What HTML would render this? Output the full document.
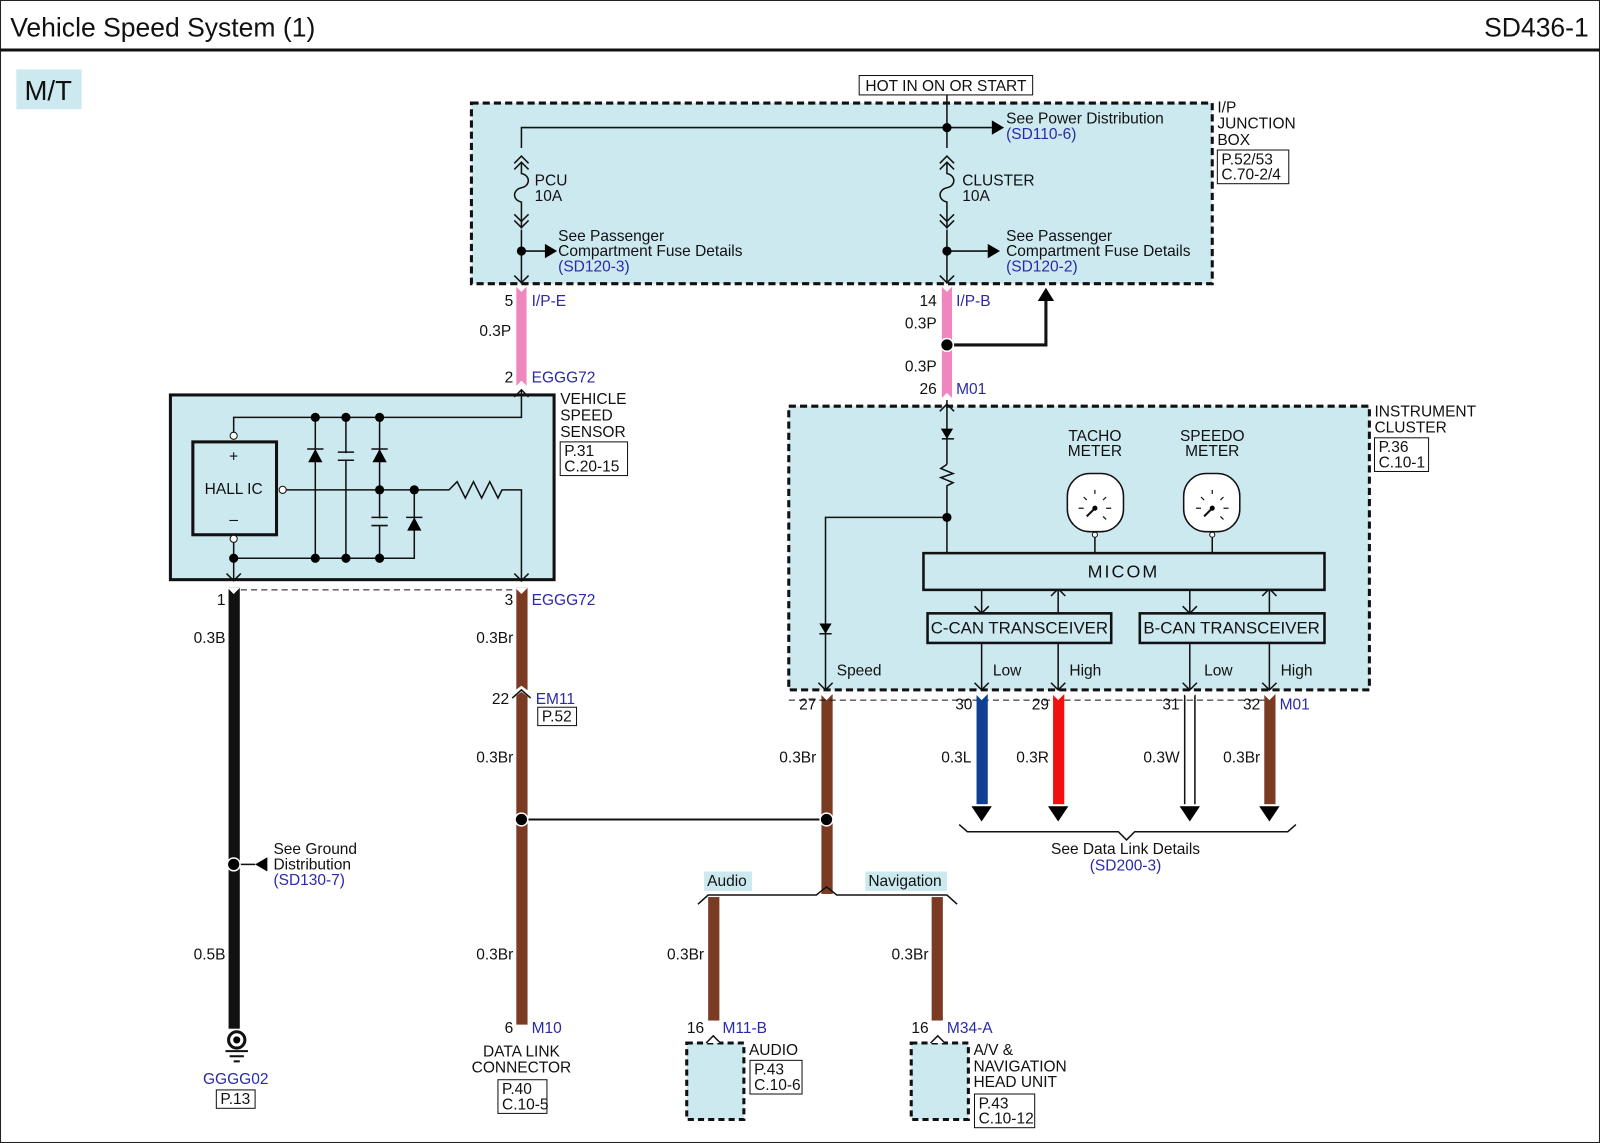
<!DOCTYPE html>
<html><head><meta charset="utf-8"><style>
html,body{margin:0;padding:0;background:#fff;}
svg{display:block;}
text{font-family:"Liberation Sans",Arial,sans-serif;font-size:15.2px;fill:#111;}
.b{fill:#2a2aa8;}
.s{font-size:16.5px;}
</style></head><body>
<svg width="1600" height="1143" viewBox="0 0 1568 1120" preserveAspectRatio="none" xmlns="http://www.w3.org/2000/svg">
<rect x="0.5" y="0.5" width="1567" height="1119" fill="#fff" stroke="#222" stroke-width="1"/>
<text x="10" y="36" style="font-size:26px">Vehicle Speed System (1)</text>
<text x="1557" y="36" text-anchor="end" style="font-size:26px">SD436-1</text>
<line x1="0" y1="49" x2="1568" y2="49" stroke="#111" stroke-width="3"/>
<rect x="16" y="68" width="64" height="39" fill="#cde9f0"/>
<text x="24" y="98" style="font-size:27px">M/T</text>

<!-- junction box -->
<rect x="462" y="101" width="726" height="177" fill="#cde9f0" stroke="#111" stroke-width="3" stroke-dasharray="7,4"/>
<rect x="842" y="74" width="170" height="19" fill="#fff" stroke="#111"/>
<text x="927" y="89" text-anchor="middle">HOT IN ON OR START</text>
<text x="1193" y="110">I/P</text><text x="1193" y="126">JUNCTION</text><text x="1193" y="142">BOX</text>
<rect x="1193" y="147" width="70" height="33" fill="#fff" stroke="#111"/>
<text x="1197" y="161">P.52/53</text><text x="1197" y="176">C.70-2/4</text>
<g stroke="#111" stroke-width="1.5" fill="none">
<polyline points="511,145 511,125 928,125"/>
<line x1="928" y1="93" x2="928" y2="145"/>
<line x1="928" y1="125" x2="972" y2="125"/>
<line x1="928" y1="246" x2="968" y2="246"/>
<line x1="511" y1="246" x2="538" y2="246"/>
<line x1="511" y1="225" x2="511" y2="278"/>
<line x1="928" y1="225" x2="928" y2="278"/>
<polyline points="504,160 511,153 518,160"/>
<polyline points="504,166 511,159 518,166"/>
<path d="M511,159 V170 C520,172 520,182 511,184 C502,186 502,196 511,198 V224"/>
<polyline points="504,210 511,217 518,210"/><polyline points="504,216 511,223 518,216"/>
<polyline points="921,160 928,153 935,160"/><polyline points="921,166 928,159 935,166"/>
<path d="M928,159 V170 C937,172 937,182 928,184 C919,186 919,196 928,198 V224"/>
<polyline points="921,210 928,217 935,210"/><polyline points="921,216 928,223 935,216"/>
<polyline points="504,270 511,277 518,270"/><polyline points="921,270 928,277 935,270"/>
</g>
<circle cx="928" cy="125" r="4.5"/><circle cx="928" cy="246" r="4.5"/><circle cx="511" cy="246" r="4.5"/>
<polygon points="972,118 984,125 972,132"/><polygon points="968,239 980,246 968,253"/><polygon points="534,239 546,246 534,253"/>
<text x="986" y="121">See Power Distribution</text><text x="986" y="136" class="b">(SD110-6)</text>
<text x="524" y="182">PCU</text><text x="524" y="197">10A</text>
<text x="943" y="182">CLUSTER</text><text x="943" y="197">10A</text>
<text x="547" y="236">See Passenger</text><text x="547" y="251">Compartment Fuse Details</text><text x="547" y="266" class="b">(SD120-3)</text>
<text x="986" y="236">See Passenger</text><text x="986" y="251">Compartment Fuse Details</text><text x="986" y="266" class="b">(SD120-2)</text>

<!-- pink wires -->
<rect x="506" y="280" width="10" height="98" fill="#ef86c0"/>
<rect x="923" y="280" width="10" height="110" fill="#ef86c0"/>
<circle cx="928" cy="338" r="7" fill="#fff"/><circle cx="928" cy="338" r="5.5"/>
<polyline points="935,338 1025,338 1025,290" stroke="#111" stroke-width="3" fill="none"/>
<polygon points="1017,295 1025,282 1033,295"/>
<text x="503" y="300" text-anchor="end">5</text><text x="521" y="300" class="b">I/P-E</text>
<text x="501" y="329" text-anchor="end">0.3P</text>
<text x="503" y="375" text-anchor="end">2</text><text x="521" y="375" class="b">EGGG72</text>
<text x="918" y="300" text-anchor="end">14</text><text x="937" y="300" class="b">I/P-B</text>
<text x="918" y="322" text-anchor="end">0.3P</text>
<text x="918" y="364" text-anchor="end">0.3P</text>
<text x="918" y="386" text-anchor="end">26</text><text x="937" y="386" class="b">M01</text>

<!-- sensor -->
<rect x="167" y="387" width="376" height="181" fill="#cde9f0" stroke="#111" stroke-width="3"/>
<text x="549" y="396">VEHICLE</text><text x="549" y="412">SPEED</text><text x="549" y="428">SENSOR</text>
<rect x="549" y="433" width="66" height="33" fill="#fff" stroke="#111"/>
<text x="553" y="447">P.31</text><text x="553" y="462">C.20-15</text>
<rect x="189" y="433" width="82" height="91" fill="#cde9f0" stroke="#111" stroke-width="3"/>
<text x="229" y="484" text-anchor="middle">HALL IC</text>
<text x="229" y="452" text-anchor="middle">+</text><text x="229" y="514" text-anchor="middle">–</text>
<g stroke="#111" stroke-width="1.5" fill="none">
<polyline points="229,425 229,409 511,409 511,382"/>
<polyline points="229,530 229,547 406,547 406,480"/>
<polyline points="280,480 440,480 448,472 456,488 464,472 472,488 480,472 488,488 492,480 511,480 511,570"/>
<line x1="309" y1="409" x2="309" y2="547"/><line x1="339" y1="409" x2="339" y2="547"/><line x1="372" y1="409" x2="372" y2="547"/>
<polyline points="504,389 511,382 518,389"/><polyline points="504,562 511,569 518,562"/>
<polyline points="222,562 229,569 236,562"/><line x1="229" y1="547" x2="229" y2="568"/>
<line x1="301" y1="440" x2="317" y2="440"/><line x1="364" y1="440" x2="380" y2="440"/><line x1="398" y1="507" x2="414" y2="507"/>
</g>
<g stroke="#cde9f0" stroke-width="4"><line x1="339" y1="444" x2="339" y2="451"/><line x1="372" y1="508" x2="372" y2="515"/></g>
<g stroke="#111" stroke-width="1.5"><line x1="331" y1="443" x2="347" y2="443"/><line x1="331" y1="451" x2="347" y2="451"/><line x1="364" y1="507" x2="380" y2="507"/><line x1="364" y1="515" x2="380" y2="515"/></g>
<polygon points="302,453 316,453 309,440"/><polygon points="365,453 379,453 372,440"/><polygon points="399,520 413,520 406,507"/>
<circle cx="229" cy="427" r="3.5" fill="#fff" stroke="#111"/><circle cx="229" cy="528" r="3.5" fill="#fff" stroke="#111"/><circle cx="277" cy="480" r="3.5" fill="#fff" stroke="#111"/>
<g><circle cx="309" cy="409" r="4.5"/><circle cx="339" cy="409" r="4.5"/><circle cx="372" cy="409" r="4.5"/>
<circle cx="309" cy="547" r="4.5"/><circle cx="339" cy="547" r="4.5"/><circle cx="372" cy="547" r="4.5"/><circle cx="229" cy="547" r="4.5"/>
<circle cx="372" cy="480" r="4.5"/><circle cx="406" cy="480" r="4.5"/></g>
<line x1="236" y1="578" x2="506" y2="578" stroke="#111" stroke-dasharray="6,4"/>

<!-- left wires -->
<rect x="224" y="576" width="11" height="432" fill="#111"/>
<rect x="506" y="576" width="11" height="428" fill="#7a3b22"/>
<polygon points="500,680 511,672 522,680 522,686 511,678 500,686" fill="#fff"/>
<polyline points="502,684 511,676 520,684" stroke="#111" fill="none" stroke-width="1.5"/>
<text x="221" y="593" text-anchor="end">1</text><text x="221" y="630" text-anchor="end">0.3B</text>
<text x="221" y="940" text-anchor="end">0.5B</text>
<text x="503" y="593" text-anchor="end">3</text><text x="521" y="593" class="b">EGGG72</text>
<text x="503" y="630" text-anchor="end">0.3Br</text>
<text x="499" y="690" text-anchor="end">22</text><text x="525" y="690" class="b">EM11</text>
<rect x="527" y="693" width="38" height="18" fill="#fff" stroke="#111"/><text x="531" y="707">P.52</text>
<text x="503" y="747" text-anchor="end">0.3Br</text><text x="503" y="940" text-anchor="end">0.3Br</text>
<circle cx="229" cy="847" r="7" fill="#fff"/><circle cx="229" cy="847" r="5.5"/>
<line x1="236" y1="847" x2="250" y2="847" stroke="#111" stroke-width="1.5"/>
<polygon points="262,840 250,847 262,854"/>
<text x="268" y="837">See Ground</text><text x="268" y="852">Distribution</text><text x="268" y="867" class="b">(SD130-7)</text>
<circle cx="232" cy="1019" r="8" fill="#fff" stroke="#111" stroke-width="3"/><circle cx="232" cy="1019" r="3.5"/>
<line x1="221" y1="1030" x2="243" y2="1030" stroke="#111" stroke-width="2"/>
<line x1="225" y1="1035" x2="239" y2="1035" stroke="#111" stroke-width="2"/>
<line x1="229" y1="1040" x2="235" y2="1040" stroke="#111" stroke-width="2"/>
<text x="231" y="1062" text-anchor="middle" class="b">GGGG02</text>
<rect x="212" y="1068" width="38" height="18" fill="#fff" stroke="#111"/><text x="216" y="1082">P.13</text>
<text x="503" y="1012" text-anchor="end">6</text><text x="521" y="1012" class="b">M10</text>
<text x="511" y="1035" text-anchor="middle">DATA LINK</text><text x="511" y="1051" text-anchor="middle">CONNECTOR</text>
<rect x="488" y="1058" width="48" height="33" fill="#fff" stroke="#111"/><text x="492" y="1072">P.40</text><text x="492" y="1087">C.10-5</text>

<!-- splice -->
<line x1="511" y1="803" x2="810" y2="803" stroke="#111" stroke-width="2"/>
<circle cx="511" cy="803" r="7" fill="#fff"/><circle cx="511" cy="803" r="5.5"/>
<rect x="805" y="680" width="11" height="196" fill="#7a3b22"/>
<circle cx="810" cy="803" r="7" fill="#fff"/><circle cx="810" cy="803" r="5.5"/>
<text x="800" y="695" text-anchor="end">27</text><text x="800" y="747" text-anchor="end">0.3Br</text>
<polyline points="684,886 694,877 800,877 810,869 820,877 928,877 938,886" stroke="#111" stroke-width="1.5" fill="none"/>
<rect x="690" y="854" width="47" height="19" fill="#cde9f0"/><text x="693" y="868">Audio</text>
<rect x="848" y="854" width="80" height="19" fill="#cde9f0"/><text x="851" y="868">Navigation</text>
<rect x="694" y="879" width="11" height="121" fill="#7a3b22"/>
<rect x="913" y="879" width="11" height="121" fill="#7a3b22"/>
<text x="690" y="940" text-anchor="end">0.3Br</text><text x="910" y="940" text-anchor="end">0.3Br</text>
<text x="690" y="1012" text-anchor="end">16</text><text x="708" y="1012" class="b">M11-B</text>
<text x="910" y="1012" text-anchor="end">16</text><text x="928" y="1012" class="b">M34-A</text>
<rect x="673" y="1022" width="56" height="75" fill="#cde9f0" stroke="#111" stroke-width="3" stroke-dasharray="6,4"/>
<rect x="893" y="1022" width="56" height="75" fill="#cde9f0" stroke="#111" stroke-width="3" stroke-dasharray="6,4"/>
<polyline points="692,1022 699,1015 706,1022" stroke="#111" fill="#fff" stroke-width="1.5"/>
<polyline points="912,1022 919,1015 926,1022" stroke="#111" fill="#fff" stroke-width="1.5"/>
<text x="734" y="1034">AUDIO</text>
<rect x="735" y="1039" width="51" height="33" fill="#fff" stroke="#111"/><text x="739" y="1053">P.43</text><text x="739" y="1068">C.10-6</text>
<text x="954" y="1034">A/V &amp;</text><text x="954" y="1050">NAVIGATION</text><text x="954" y="1065">HEAD UNIT</text>
<rect x="955" y="1072" width="59" height="33" fill="#fff" stroke="#111"/><text x="959" y="1086">P.43</text><text x="959" y="1101">C.10-12</text>

<!-- cluster -->
<rect x="773" y="398" width="569" height="278" fill="#cde9f0" stroke="#111" stroke-width="3" stroke-dasharray="7,4"/>
<text x="1347" y="408">INSTRUMENT</text><text x="1347" y="424">CLUSTER</text>
<rect x="1347" y="429" width="53" height="33" fill="#fff" stroke="#111"/><text x="1351" y="443">P.36</text><text x="1351" y="458">C.10-1</text>
<line x1="773" y1="686" x2="1250" y2="686" stroke="#111" stroke-dasharray="6,4"/>
<g stroke="#111" stroke-width="1.5" fill="none">
<line x1="928" y1="392" x2="928" y2="455"/>
<polyline points="928,455 922,459 934,464 922,468 934,473 928,476 928,542"/>
<polyline points="921,403 928,396 935,403"/>
<polyline points="928,507 809,507 809,676"/>
<line x1="923" y1="430" x2="935" y2="430"/><line x1="803" y1="621" x2="815" y2="621"/>
<line x1="1073" y1="521" x2="1073" y2="542"/><line x1="1188" y1="521" x2="1188" y2="542"/>
<line x1="962" y1="578" x2="962" y2="676"/><line x1="1037" y1="578" x2="1037" y2="676"/>
<line x1="1166" y1="578" x2="1166" y2="676"/><line x1="1244" y1="578" x2="1244" y2="676"/>
<polyline points="955,594 962,601 969,594"/><polyline points="1030,584 1037,577 1044,584"/>
<polyline points="1159,594 1166,601 1173,594"/><polyline points="1237,584 1244,577 1251,584"/>
<polyline points="802,669 809,676 816,669"/><polyline points="955,669 962,676 969,669"/>
<polyline points="1030,669 1037,676 1044,669"/><polyline points="1159,669 1166,676 1173,669"/><polyline points="1237,669 1244,676 1251,669"/>
</g>
<polygon points="922,420 934,420 928,430"/><polygon points="803,611 815,611 809,621"/>
<circle cx="928" cy="507" r="4.5"/>
<text x="1073" y="432" text-anchor="middle">TACHO</text><text x="1073" y="447" text-anchor="middle">METER</text>
<text x="1188" y="432" text-anchor="middle">SPEEDO</text><text x="1188" y="447" text-anchor="middle">METER</text>
<g stroke="#111" stroke-width="1.5" fill="#fff">
<rect x="1046" y="464" width="55" height="57" rx="22"/><rect x="1160" y="464" width="55" height="57" rx="22"/>
</g>
<g stroke="#111" stroke-width="1.2">
<line x1="1073" y1="480" x2="1073" y2="484"/><line x1="1057" y1="498" x2="1062" y2="498"/><line x1="1084" y1="498" x2="1089" y2="498"/>
<line x1="1062" y1="487" x2="1065" y2="490"/><line x1="1084" y1="487" x2="1081" y2="490"/><line x1="1081" y1="506" x2="1084" y2="509"/>
<line x1="1073" y1="498" x2="1065" y2="506" stroke-width="2"/>
<line x1="1188" y1="480" x2="1188" y2="484"/><line x1="1172" y1="498" x2="1177" y2="498"/><line x1="1199" y1="498" x2="1204" y2="498"/>
<line x1="1177" y1="487" x2="1180" y2="490"/><line x1="1199" y1="487" x2="1196" y2="490"/><line x1="1196" y1="506" x2="1199" y2="509"/>
<line x1="1188" y1="498" x2="1180" y2="506" stroke-width="2"/>
</g>
<circle cx="1073" cy="498" r="2.5"/><circle cx="1188" cy="498" r="2.5"/>
<circle cx="1073" cy="524" r="2.5" fill="#fff" stroke="#111"/><circle cx="1188" cy="524" r="2.5" fill="#fff" stroke="#111"/>
<rect x="905" y="542" width="393" height="36" fill="#cde9f0" stroke="#111" stroke-width="2.5"/>
<text x="1101" y="566" text-anchor="middle" style="font-size:17.5px;letter-spacing:2px">MICOM</text>
<rect x="909" y="601" width="180" height="29" fill="#cde9f0" stroke="#111" stroke-width="2.5"/>
<text x="999" y="621" text-anchor="middle" class="s">C-CAN TRANSCEIVER</text>
<rect x="1117" y="601" width="181" height="29" fill="#cde9f0" stroke="#111" stroke-width="2.5"/>
<text x="1207" y="621" text-anchor="middle" class="s">B-CAN TRANSCEIVER</text>
<text x="820" y="662">Speed</text><text x="973" y="662">Low</text><text x="1048" y="662">High</text>
<text x="1180" y="662">Low</text><text x="1255" y="662">High</text>

<!-- bus wires -->
<rect x="957" y="680" width="11" height="108" fill="#0f3f96"/>
<rect x="1032" y="680" width="11" height="108" fill="#f01010"/>
<line x1="1161" y1="680" x2="1161" y2="788" stroke="#111" stroke-width="1.5"/>
<line x1="1171" y1="680" x2="1171" y2="788" stroke="#111" stroke-width="1.5"/>
<rect x="1239" y="680" width="11" height="108" fill="#7a3b22"/>
<!-- connector notches -->
<g fill="#fff">
<polygon points="505,280 511,286 517,280"/><polygon points="922,280 928,286 934,280"/>
<polygon points="505,379 511,373 517,379"/><polygon points="922,391 928,385 934,391"/>
<polygon points="223,576 229,582 235,576"/><polygon points="505,576 511,582 517,576"/>
<polygon points="804,680 810,686 816,680"/><polygon points="956,680 962,686 968,680"/>
<polygon points="1031,680 1037,686 1043,680"/><polygon points="1160,680 1166,686 1172,680"/>
<polygon points="1238,680 1244,686 1250,680"/>
</g>
<polygon points="952,790 972,790 962,805"/><polygon points="1027,790 1047,790 1037,805"/>
<polygon points="1156,790 1176,790 1166,805"/><polygon points="1234,790 1254,790 1244,805"/>
<text x="953" y="695" text-anchor="end">30</text><text x="1028" y="695" text-anchor="end">29</text>
<text x="1156" y="695" text-anchor="end">31</text><text x="1235" y="695" text-anchor="end">32</text><text x="1254" y="695" class="b">M01</text>
<text x="952" y="747" text-anchor="end">0.3L</text><text x="1028" y="747" text-anchor="end">0.3R</text>
<text x="1156" y="747" text-anchor="end">0.3W</text><text x="1235" y="747" text-anchor="end">0.3Br</text>
<polyline points="940,808 948,815 1096,815 1104,823 1112,815 1262,815 1270,808" stroke="#111" stroke-width="1.5" fill="none"/>
<text x="1103" y="837" text-anchor="middle">See Data Link Details</text>
<text x="1103" y="853" text-anchor="middle" class="b">(SD200-3)</text>
</svg>
</body></html>
